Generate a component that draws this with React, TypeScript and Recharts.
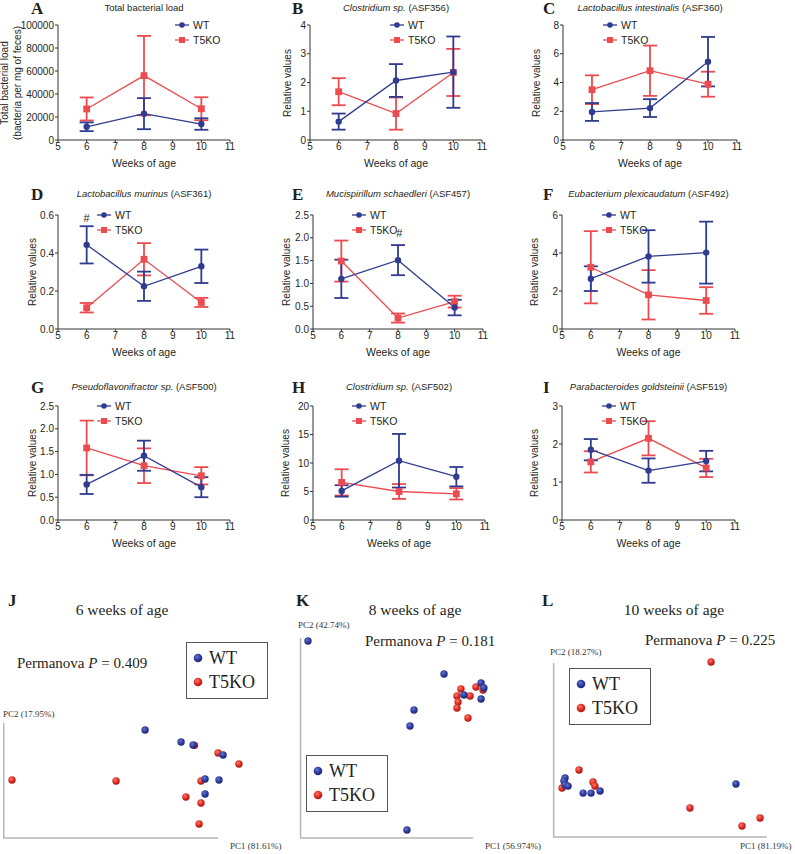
import React from "react";
import {
  LineChart,
  Line,
  XAxis,
  YAxis,
  ErrorBar,
  ReferenceDot,
  ScatterChart,
  Scatter,
  ReferenceLine,
} from "recharts";

const BLUE = "#2F3C8F";
const RED = "#EC4B50";
const INK = "#231f20";
const SANS = "'Liberation Sans', Arial, Helvetica, sans-serif";
const SERIF = "'Liberation Serif', 'Times New Roman', serif";

const weeks = [6, 8, 10];
const weekTicks = [5, 6, 7, 8, 9, 10, 11];

// A - total bacterial load
const loadTicks = [0, 20000, 40000, 60000, 80000, 100000];
const loadWt = [11500, 22900, 13900];
const loadWtErr = [3800, 13500, 5000];
const loadKo = [27000, 56000, 27200];
const loadKoErr = [10000, 34500, 10000];

// B - ASF356
const asf356Ticks = [0, 1, 2, 3, 4];
const asf356Wt = [0.64, 2.07, 2.36];
const asf356WtErr = [0.28, 0.57, 1.24];
const asf356Ko = [1.68, 0.92, 2.35];
const asf356KoErr = [0.47, 0.56, 0.82];

// C - ASF360
const asf360Ticks = [0, 2, 4, 6, 8];
const asf360Wt = [1.95, 2.22, 5.45];
const asf360WtErr = [0.62, 0.62, 1.72];
const asf360Ko = [3.5, 4.82, 3.88];
const asf360KoErr = [1.0, 1.75, 0.87];

// D - ASF361
const asf361Ticks = [0, 0.2, 0.4, 0.6];
const asf361Wt = [0.443, 0.225, 0.33];
const asf361WtErr = [0.098, 0.077, 0.088];
const asf361Ko = [0.112, 0.367, 0.14];
const asf361KoErr = [0.025, 0.085, 0.024];

// E - ASF457
const asf457Ticks = [0, 0.5, 1, 1.5, 2, 2.5];
const asf457Wt = [1.1, 1.51, 0.47];
const asf457WtErr = [0.42, 0.33, 0.17];
const asf457Ko = [1.49, 0.24, 0.6];
const asf457KoErr = [0.45, 0.1, 0.13];

// F - ASF492
const asf492Ticks = [0, 2, 4, 6];
const asf492Wt = [2.65, 3.82, 4.02];
const asf492WtErr = [0.65, 1.38, 1.63];
const asf492Ko = [3.25, 1.8, 1.5];
const asf492KoErr = [1.9, 1.3, 0.7];

// G - ASF500
const asf500Ticks = [0, 0.5, 1, 1.5, 2, 2.5];
const asf500Wt = [0.78, 1.41, 0.72];
const asf500WtErr = [0.21, 0.33, 0.22];
const asf500Ko = [1.58, 1.19, 0.97];
const asf500KoErr = [0.6, 0.38, 0.19];

// H - ASF502
const asf502Ticks = [0, 5, 10, 15, 20];
const asf502Wt = [5.1, 10.4, 7.6];
const asf502WtErr = [1.0, 4.7, 1.7];
const asf502Ko = [6.6, 5.0, 4.6];
const asf502KoErr = [2.3, 1.3, 1.0];

// I - ASF519
const asf519Ticks = [0, 1, 2, 3];
const asf519Wt = [1.85, 1.3, 1.55];
const asf519WtErr = [0.28, 0.32, 0.27];
const asf519Ko = [1.53, 2.15, 1.37];
const asf519KoErr = [0.28, 0.45, 0.24];

// "#" marks
const hashD = { week: 6, value: 0.585 };
const hashE = { week: 8.05, value: 2.1 };

// PCoA coordinates (scaled 0-100 on each axis)
const pc6Wt = [
  { pc1: 59.2, pc2: 90.0 }, { pc1: 74.2, pc2: 80.0 }, { pc1: 79.2, pc2: 77.5 },
  { pc1: 91.7, pc2: 69.2 }, { pc1: 84.2, pc2: 49.2 }, { pc1: 90.0, pc2: 48.3 },
  { pc1: 84.2, pc2: 36.7 },
];
const pc6Ko = [
  { pc1: 3.75, pc2: 48.3 }, { pc1: 47.1, pc2: 47.5 }, { pc1: 79.8, pc2: 77.2 },
  { pc1: 89.6, pc2: 70.8 }, { pc1: 98.3, pc2: 61.7 }, { pc1: 82.5, pc2: 47.5 },
  { pc1: 76.2, pc2: 34.2 }, { pc1: 82.5, pc2: 29.2 }, { pc1: 81.7, pc2: 11.7 },
];
const pc8Wt = [
  { pc1: 4.2, pc2: 98.5 }, { pc1: 75.8, pc2: 82.0 }, { pc1: 95.3, pc2: 77.5 },
  { pc1: 96.8, pc2: 75.0 }, { pc1: 86.3, pc2: 71.5 }, { pc1: 95.3, pc2: 69.5 },
  { pc1: 60.0, pc2: 64.0 }, { pc1: 57.9, pc2: 56.0 }, { pc1: 56.3, pc2: 4.0 },
];
const pc8Ko = [
  { pc1: 84.7, pc2: 74.5 }, { pc1: 92.6, pc2: 75.5 }, { pc1: 96.3, pc2: 74.0 },
  { pc1: 82.6, pc2: 71.0 }, { pc1: 89.5, pc2: 71.0 }, { pc1: 83.2, pc2: 68.0 },
  { pc1: 82.6, pc2: 65.0 }, { pc1: 88.4, pc2: 60.0 },
];
const pc10Wt = [
  { pc1: 5.6, pc2: 33.7 }, { pc1: 5.1, pc2: 32.0 }, { pc1: 5.6, pc2: 29.7 },
  { pc1: 7.0, pc2: 29.1 }, { pc1: 14.0, pc2: 25.1 }, { pc1: 17.7, pc2: 25.1 },
  { pc1: 21.9, pc2: 26.3 }, { pc1: 85.1, pc2: 30.3 },
];
const pc10Ko = [
  { pc1: 73.5, pc2: 100 }, { pc1: 12.1, pc2: 38.3 }, { pc1: 18.6, pc2: 31.4 },
  { pc1: 19.5, pc2: 29.1 }, { pc1: 4.2, pc2: 28.0 }, { pc1: 6.0, pc2: 29.7 },
  { pc1: 63.7, pc2: 16.6 }, { pc1: 96.3, pc2: 10.9 }, { pc1: 87.9, pc2: 6.3 },
];

const linePanels = [
  { letter: "A", x: 58, y: 25, w: 172, h: 115, headY: 8, title: "Total bacterial load", yLabel: ["Total bacterial load", "(bacteria per mg of feces)"], labelX: [5, 18], ticks: loadTicks, wt: loadWt, wtErr: loadWtErr, ko: loadKo, koErr: loadKoErr, legendDx: 117, dec: 0 },
  { letter: "B", x: 310, y: 25, w: 172, h: 115, headY: 8, species: "Clostridium sp.", code: "(ASF356)", yLabel: ["Relative values"], labelX: [288], ticks: asf356Ticks, wt: asf356Wt, wtErr: asf356WtErr, ko: asf356Ko, koErr: asf356KoErr, legendDx: 80, dec: 0 },
  { letter: "C", x: 563, y: 25, w: 174, h: 115, headY: 8, species: "Lactobacillus intestinalis", code: "(ASF360)", yLabel: ["Relative values"], labelX: [537], ticks: asf360Ticks, wt: asf360Wt, wtErr: asf360WtErr, ko: asf360Ko, koErr: asf360KoErr, legendDx: 40, dec: 0 },
  { letter: "D", x: 58, y: 215, w: 172, h: 114, headY: 194, species: "Lactobacillus murinus", code: "(ASF361)", yLabel: ["Relative values"], labelX: [33], ticks: asf361Ticks, wt: asf361Wt, wtErr: asf361WtErr, ko: asf361Ko, koErr: asf361KoErr, legendDx: 39, dec: 1, hash: hashD },
  { letter: "E", x: 313, y: 215, w: 170, h: 114, headY: 194, species: "Mucispirillum schaedleri", code: "(ASF457)", yLabel: ["Relative values"], labelX: [287], ticks: asf457Ticks, wt: asf457Wt, wtErr: asf457WtErr, ko: asf457Ko, koErr: asf457KoErr, legendDx: 39, dec: 1, hash: hashE },
  { letter: "F", x: 562, y: 215, w: 173, h: 114, headY: 194, species: "Eubacterium plexicaudatum", code: "(ASF492)", yLabel: ["Relative values"], labelX: [535], ticks: asf492Ticks, wt: asf492Wt, wtErr: asf492WtErr, ko: asf492Ko, koErr: asf492KoErr, legendDx: 40, dec: 0 },
  { letter: "G", x: 58, y: 406, w: 172, h: 114, headY: 387, species: "Pseudoflavonifractor sp.", code: "(ASF500)", yLabel: ["Relative values"], labelX: [33], ticks: asf500Ticks, wt: asf500Wt, wtErr: asf500WtErr, ko: asf500Ko, koErr: asf500KoErr, legendDx: 39, dec: 1 },
  { letter: "H", x: 313, y: 406, w: 172, h: 114, headY: 387, species: "Clostridium sp.", code: "(ASF502)", yLabel: ["Relative values"], labelX: [286], ticks: asf502Ticks, wt: asf502Wt, wtErr: asf502WtErr, ko: asf502Ko, koErr: asf502KoErr, legendDx: 39, dec: 0 },
  { letter: "I", x: 562, y: 406, w: 173, h: 114, headY: 387, species: "Parabacteroides goldsteinii", code: "(ASF519)", yLabel: ["Relative values"], labelX: [535], ticks: asf519Ticks, wt: asf519Wt, wtErr: asf519WtErr, ko: asf519Ko, koErr: asf519KoErr, legendDx: 40, dec: 0 },
];

const pcoaPanels = [
  { letter: "J", letterX: 8, title: "6 weeks of age", titleX: 122, pval: "0.409", pX: 17, pY: 663, pc2: "PC2 (17.95%)", pc2X: 3, pc2Y: 714, pc1: "PC1 (81.61%)", pc1X: 230, left: 3, top: 718, w: 240, h: 120, vTop: 95.8, hRight: 89.6, legX: 186, legY: 642, wt: pc6Wt, ko: pc6Ko },
  { letter: "K", letterX: 296, title: "8 weeks of age", titleX: 415, pval: "0.181", pX: 365, pY: 641, pc2: "PC2 (42.74%)", pc2X: 298, pc2Y: 625, pc1: "PC1 (56.974%)", pc1X: 485, left: 300, top: 638, w: 190, h: 200, vTop: 100, hRight: 91, legX: 306, legY: 755, wt: pc8Wt, ko: pc8Ko },
  { letter: "L", letterX: 542, title: "10 weeks of age", titleX: 674, pval: "0.225", pX: 645, pY: 640, pc2: "PC2 (18.27%)", pc2X: 550, pc2Y: 652, pc1: "PC1 (81.19%)", pc1X: 740, left: 553, top: 662, w: 215, h: 175, vTop: 99.4, hRight: 99.5, legX: 569, legY: 668, wt: pc10Wt, ko: pc10Ko },
];

const circleDot = (props: any) => (
  <circle key={`c${props.index}`} cx={props.cx} cy={props.cy} r={3.2} fill={BLUE} />
);
const squareDot = (props: any) => (
  <rect key={`s${props.index}`} x={props.cx - 3.4} y={props.cy - 3.4} width={6.8} height={6.8} fill={RED} />
);

function Txt({ x, y, children, size, family = SANS, center = false, style = {} }: any) {
  return (
    <div
      style={{
        position: "absolute",
        left: x,
        top: y,
        transform: center ? "translate(-50%, -50%)" : "translateY(-50%)",
        whiteSpace: "nowrap",
        fontSize: size,
        fontFamily: family,
        color: INK,
        lineHeight: 1,
        ...style,
      }}
    >
      {children}
    </div>
  );
}

function LegendRow({ x, y, label, square }: any) {
  return (
    <div style={{ position: "absolute", left: x, top: y - 7, height: 14, display: "flex", alignItems: "center" }}>
      <svg width={15} height={14}>
        <line x1={0} y1={7} x2={14} y2={7} stroke={square ? RED : BLUE} strokeWidth={1.3} />
        {square ? <rect x={4} y={4} width={6} height={6} fill={RED} /> : <circle cx={7} cy={7} r={2.8} fill={BLUE} />}
      </svg>
      <span style={{ marginLeft: 3, fontSize: 10.5, fontFamily: SANS, color: INK }}>{label}</span>
    </div>
  );
}

function LinePanel({ p }: any) {
  const ML = 56;
  const MR = 10;
  const MT = 8;
  const MB = 32;
  const width = p.w + ML + MR;
  const height = p.h + MT + MB;
  const rows = weeks.map((wk, i) => ({ week: wk, wt: p.wt[i], wtErr: p.wtErr[i], ko: p.ko[i], koErr: p.koErr[i] }));
  const yMax = p.ticks[p.ticks.length - 1];
  const tickStyle = { fontSize: 10, fill: INK, fontFamily: SANS };
  return (
    <>
      <Txt x={p.letterX ?? (p.x < 100 ? 31 : p.x < 400 ? 292 : 543)} y={p.headY} size={17} family={SERIF} style={{ fontWeight: "bold" }}>
        {p.letter}
      </Txt>
      <Txt x={p.x + p.w / 2} y={p.headY} size={9.5} center>
        {p.species ? (
          <>
            <i>{p.species}</i> {p.code}
          </>
        ) : (
          p.title
        )}
      </Txt>
      {p.yLabel.map((t: string, i: number) => (
        <Txt key={t} x={p.labelX[i]} y={p.y + p.h / 2} size={10} center style={{ transform: "translate(-50%, -50%) rotate(-90deg)" }}>
          {t}
        </Txt>
      ))}
      <div style={{ position: "absolute", left: p.x - ML, top: p.y - MT, width, height }}>
        <LineChart width={width} height={height} data={rows} margin={{ top: MT, right: MR, bottom: 0, left: 0 }}>
          <XAxis
            type="number"
            dataKey="week"
            domain={[5, 11]}
            ticks={weekTicks}
            interval={0}
            height={MB}
            tickSize={3}
            tickMargin={0}
            tick={tickStyle}
            axisLine={{ stroke: "#333", strokeWidth: 1 }}
            tickLine={{ stroke: "#333" }}
            label={{ value: "Weeks of age", position: "insideBottom", offset: 5, fontSize: 10.5, fill: INK, fontFamily: SANS }}
          />
          <YAxis
            type="number"
            domain={[0, yMax]}
            ticks={p.ticks}
            interval={0}
            width={ML}
            tickSize={3}
            tickMargin={1}
            tick={tickStyle}
            tickFormatter={(v: number) => v.toFixed(p.dec)}
            axisLine={{ stroke: "#333", strokeWidth: 1 }}
            tickLine={{ stroke: "#333" }}
          />
          <Line dataKey="ko" stroke={RED} strokeWidth={1.3} dot={squareDot} isAnimationActive={false}>
            <ErrorBar dataKey="koErr" direction="y" width={7} stroke={RED} strokeWidth={1.8} />
          </Line>
          <Line dataKey="wt" stroke={BLUE} strokeWidth={1.3} dot={circleDot} isAnimationActive={false}>
            <ErrorBar dataKey="wtErr" direction="y" width={7} stroke={BLUE} strokeWidth={1.8} />
          </Line>
          {p.hash && (
            <ReferenceDot
              x={p.hash.week}
              y={p.hash.value}
              r={1}
              fill="none"
              stroke="none"
              ifOverflow="visible"
              label={{ value: "#", position: "center", fontSize: 11, fill: INK, fontFamily: SANS }}
            />
          )}
        </LineChart>
      </div>
      <LegendRow x={p.x + p.legendDx} y={p.y} label="WT" />
      <LegendRow x={p.x + p.legendDx} y={p.y + 15} label="T5KO" square />
    </>
  );
}

const ball = (grad: string) => (props: any) => (
  <circle cx={props.cx} cy={props.cy} r={3.7} fill={`url(#${grad})`} />
);

function PcoaPanel({ p }: any) {
  const pad = 8;
  const width = p.w + pad * 2;
  const height = p.h + pad * 2;
  return (
    <>
      <Txt x={p.letterX} y={600} size={17} family={SERIF} style={{ fontWeight: "bold" }}>
        {p.letter}
      </Txt>
      <Txt x={p.titleX} y={610} size={15.5} family={SERIF} center>
        {p.title}
      </Txt>
      <Txt x={p.pX} y={p.pY} size={15} family={SERIF}>
        Permanova <i>P</i> = {p.pval}
      </Txt>
      <Txt x={p.pc2X} y={p.pc2Y} size={9} family={SERIF} style={{ color: "#333" }}>
        {p.pc2}
      </Txt>
      <Txt x={p.pc1X} y={846} size={9} family={SERIF} style={{ color: "#333" }}>
        {p.pc1}
      </Txt>
      <div style={{ position: "absolute", left: p.left - pad, top: p.top - pad, width, height }}>
        <ScatterChart width={width} height={height} margin={{ top: pad, right: pad, bottom: pad, left: pad }}>
          <XAxis type="number" dataKey="pc1" domain={[0, 100]} hide />
          <YAxis type="number" dataKey="pc2" domain={[0, 100]} hide />
          <ReferenceLine segment={[{ x: 0.3, y: 0 }, { x: 0.3, y: p.vTop }]} stroke="#b5b5b5" strokeWidth={1.5} />
          <ReferenceLine segment={[{ x: 0, y: 0 }, { x: p.hRight, y: 0 }]} stroke="#b5b5b5" strokeWidth={1.5} />
          <Scatter data={p.ko} shape={ball("gRed")} isAnimationActive={false} />
          <Scatter data={p.wt} shape={ball("gBlue")} isAnimationActive={false} />
        </ScatterChart>
      </div>
      <div
        style={{
          position: "absolute",
          left: p.legX,
          top: p.legY,
          width: 80,
          height: 55,
          border: "1px solid #555",
          background: "#fff",
        }}
      />
      {[
        { label: "WT", g: "gBlue", dy: 16 },
        { label: "T5KO", g: "gRed", dy: 40 },
      ].map((it) => (
        <React.Fragment key={it.label}>
          <svg style={{ position: "absolute", left: p.legX + 7, top: p.legY + it.dy - 5 }} width={10} height={10}>
            <circle cx={5} cy={5} r={4.3} fill={`url(#${it.g})`} />
          </svg>
          <Txt x={p.legX + 23} y={p.legY + it.dy} size={18} family={SERIF}>
            {it.label}
          </Txt>
        </React.Fragment>
      ))}
    </>
  );
}

export default function App() {
  return (
    <div style={{ position: "absolute", left: 0, top: 0, width: 795, height: 854, background: "#fff", overflow: "hidden" }}>
      <svg width={0} height={0} style={{ position: "absolute" }}>
        <defs>
          <radialGradient id="gBlue" cx="40%" cy="35%" r="70%">
            <stop offset="0%" stopColor="#6676cf" />
            <stop offset="55%" stopColor="#2d3a9c" />
            <stop offset="100%" stopColor="#1c2474" />
          </radialGradient>
          <radialGradient id="gRed" cx="40%" cy="35%" r="70%">
            <stop offset="0%" stopColor="#ff7a6a" />
            <stop offset="55%" stopColor="#dc2a22" />
            <stop offset="100%" stopColor="#a0170f" />
          </radialGradient>
        </defs>
      </svg>
      {linePanels.map((p) => (
        <LinePanel key={p.letter} p={p} />
      ))}
      {pcoaPanels.map((p) => (
        <PcoaPanel key={p.letter} p={p} />
      ))}
    </div>
  );
}
